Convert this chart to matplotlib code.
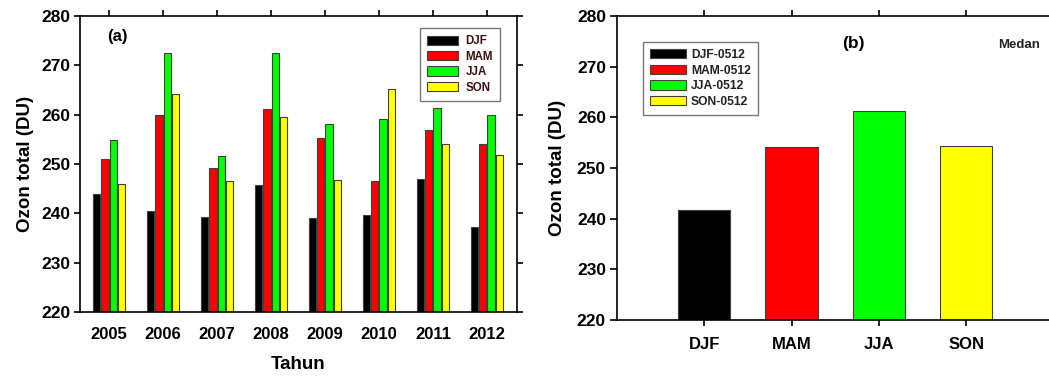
import matplotlib.pyplot as plt
import numpy as np

plt.rcParams['font.family'] = ['Liberation Sans', 'DejaVu Sans']
plt.rcParams['font.weight'] = 'bold'

# yearly seasonal mean total ozone (DU)
years = ['2005', '2006', '2007', '2008', '2009', '2010', '2011', '2012']
djf = [244.0, 240.5, 239.3, 245.7, 239.0, 239.6, 247.0, 237.3]
mam = [251.0, 260.0, 249.1, 261.1, 255.3, 246.5, 256.9, 254.1]
jja = [254.8, 272.4, 251.6, 272.4, 258.1, 259.2, 261.4, 259.9]
son = [245.9, 264.1, 246.5, 259.5, 246.8, 265.3, 254.1, 251.8]

# 2005-2012 seasonal means for Medan
seasons = ['DJF', 'MAM', 'JJA', 'SON']
season_mean = [241.7, 254.2, 261.2, 254.3]

colors = ['#000000', '#ff0000', '#00ff00', '#ffff00']
edge = '#404040'

fig = plt.figure(figsize=(10.49, 3.78), dpi=100)

# ---- panel (a)
ax1 = fig.add_axes([0.0763, 0.1746, 0.4166, 0.7831])
x = np.arange(len(years))
pitch = 0.154
for i, (vals, lab) in enumerate(zip([djf, mam, jja, son], seasons)):
    ax1.bar(x + (i - 1.5) * pitch, np.array(vals) - 220, bottom=220,
            width=0.135, color=colors[i], edgecolor=edge, linewidth=0.8,
            label=lab)
ax1.set_xlim(-0.54, 7.56)
ax1.set_ylim(220, 280)
ax1.set_xticks(x)
ax1.set_xticklabels(years, fontsize=12, fontweight='bold')
ax1.set_yticks(range(220, 281, 10))
ax1.set_yticklabels([str(v) for v in range(220, 281, 10)], fontsize=12.5,
                    fontweight='bold')
ax1.tick_params(axis='x', which='both', top=True, bottom=False, direction='out',
                length=4, width=1.2, pad=7)
ax1.tick_params(axis='y', which='both', left=True, right=True, direction='out',
                length=4, width=1.2, pad=3)
ax1.set_xlabel('Tahun', fontsize=13.5, fontweight='bold', labelpad=10)
ax1.set_ylabel('Ozon total (DU)', fontsize=13.5, fontweight='bold', labelpad=5)
ax1.text(0.063, 0.93, '(a)', transform=ax1.transAxes, fontsize=12,
         fontweight='bold', va='center')
leg1 = ax1.legend(loc='upper right', bbox_to_anchor=(0.975, 0.98),
                  fontsize=8.3, frameon=True, fancybox=False,
                  edgecolor='#555555', handlelength=2.7, handleheight=0.85,
                  labelspacing=0.3, borderpad=0.65, handletextpad=0.6)
leg1.get_frame().set_linewidth(1.0)
for t in leg1.get_texts():
    t.set_fontweight('bold')
    t.set_color('#3a1010')
for s in ax1.spines.values():
    s.set_linewidth(1.2)

# ---- panel (b)
ax2 = fig.add_axes([0.5882, 0.1534, 0.4118, 0.8043])
xb = np.arange(1, len(seasons) + 1)
ax2.bar(xb, np.array(season_mean) - 220, bottom=220, width=0.6,
        color=colors, edgecolor=edge, linewidth=0.8,
        label=[s + '-0512' for s in seasons])
ax2.set_xlim(0, 4.95)
ax2.set_ylim(220, 280)
ax2.set_xticks(xb)
ax2.set_xticklabels(seasons, fontsize=12, fontweight='bold')
ax2.set_yticks(range(220, 281, 10))
ax2.set_yticklabels([str(v) for v in range(220, 281, 10)], fontsize=12.5,
                    fontweight='bold')
ax2.tick_params(axis='x', which='both', top=True, bottom=True, direction='out',
                length=4, width=1.2, pad=8)
ax2.tick_params(axis='y', which='both', left=True, right=False, direction='out',
                length=5, width=1.2, pad=3)
ax2.set_ylabel('Ozon total (DU)', fontsize=13.5, fontweight='bold', labelpad=8)
ax2.spines['right'].set_visible(False)
for s in ['left', 'top', 'bottom']:
    ax2.spines[s].set_linewidth(1.2)
ax2.text(0.547, 0.91, '(b)', transform=ax2.transAxes, fontsize=12.5,
         fontweight='bold', ha='center', va='center')
ax2.text(0.93, 0.905, 'Medan', transform=ax2.transAxes, fontsize=9.5,
         fontweight='bold', ha='center', va='center', color='#222222')
leg2 = ax2.legend(loc='upper left', bbox_to_anchor=(0.045, 0.935),
                  fontsize=8.7, frameon=True, fancybox=False,
                  edgecolor='#555555', handlelength=3.0, handleheight=0.8,
                  labelspacing=0.3, borderpad=0.6, handletextpad=0.4)
leg2.get_frame().set_linewidth(1.0)
for t in leg2.get_texts():
    t.set_fontweight('bold')
    t.set_color('#222222')

fig.savefig('out.png', dpi=100)
